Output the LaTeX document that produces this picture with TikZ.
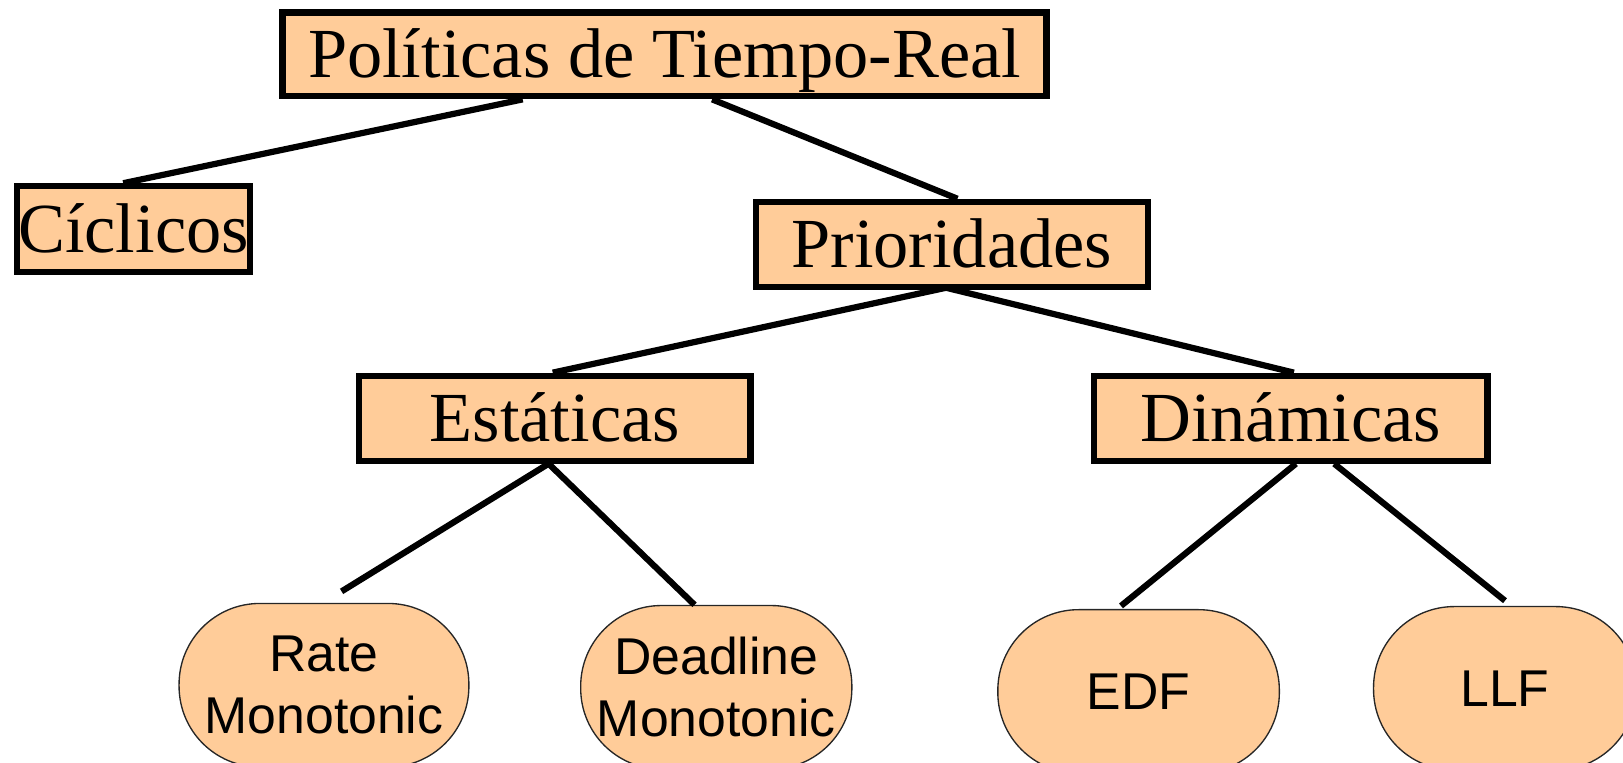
\documentclass[tikz,border=0pt]{standalone}
\usepackage{fontspec}
\setmainfont{Liberation Serif}
\newfontfamily\arialf{Liberation Sans}
\definecolor{peach}{RGB}{255,204,153}
\begin{document}
\begin{tikzpicture}[x=1pt,y=-1pt,
  box/.style={draw=black, line width=6pt, fill=peach, rectangle, inner sep=0pt,
    font=\fontsize{68}{80}\selectfont, text height=45pt, text depth=0pt},
  oval/.style={draw=black!85, line width=1.3pt, fill=peach, rectangle, rounded corners=78pt,
    inner sep=0pt, align=center, minimum height=158pt, font=\arialf\fontsize{50}{60}\selectfont},
  link/.style={draw=black, line width=6pt}]
\useasboundingbox (0,0) rectangle (1568,737);
\clip (0,0) rectangle (1568,737);

\node[box, minimum width=738pt, minimum height=81pt] (top) at (642,52.5) {Políticas de Tiempo-Real};
\node[box, minimum width=224.5pt, minimum height=83pt] (cic) at (129,221.5) {Cíclicos};
\node[box, minimum width=379pt, minimum height=82pt] (pri) at (919.5,236) {Prioridades};
\node[box, minimum width=378pt, minimum height=82pt] (est) at (536,404) {Estáticas};
\node[box, minimum width=380pt, minimum height=82pt] (din) at (1247,404) {Dinámicas};

\node[oval, minimum width=280pt] (rm) at (313,662) {Rate\\Monotonic};
\node[oval, minimum width=262pt] (dm) at (692,664) {Deadline\\Monotonic};
\node[oval, minimum width=272pt] (edf) at (1100,668) {EDF};
\node[oval, minimum width=254pt] (llf) at (1454,665) {LLF};

\draw[link] ([xshift=-137pt]top.south) -- ([xshift=-10pt]cic.north);
\draw[link] ([xshift=46pt]top.south) -- ([xshift=5.5pt]pri.north);
\draw[link] ([xshift=-5.5pt,yshift=2pt]pri.south) -- ([xshift=-2pt]est.north);
\draw[link] ([xshift=-5.5pt,yshift=2pt]pri.south) -- ([xshift=3pt]din.north);
\draw[link] ([xshift=-6pt]est.south) -- ([xshift=17pt,yshift=11pt]rm.north);
\draw[link] ([xshift=-6pt]est.south) -- ([xshift=-21pt]dm.north);
\draw[link] ([xshift=5pt]din.south) -- ([xshift=-17pt,yshift=3pt]edf.north);
\draw[link] ([xshift=42pt]din.south) -- ([yshift=5pt]llf.north);
\end{tikzpicture}
\end{document}
